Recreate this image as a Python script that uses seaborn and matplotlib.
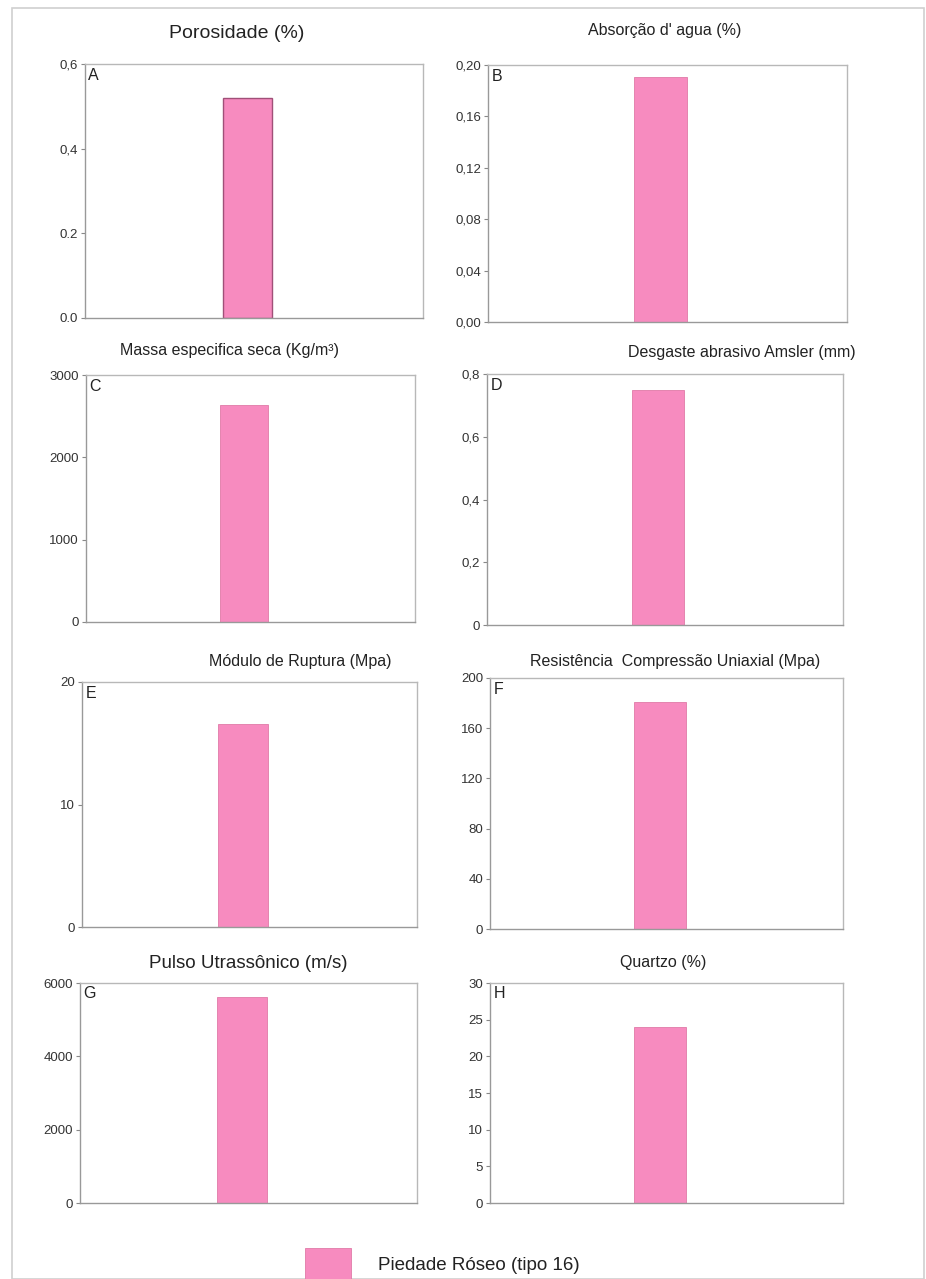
import matplotlib
matplotlib.use("Agg")
import matplotlib.pyplot as plt
import seaborn as sns
import pandas as pd
from matplotlib.patches import Rectangle

sns.set_theme(style="white")
plt.rcParams['font.family'] = ['Liberation Sans', 'DejaVu Sans']

# ---- data ----
sample = ["Piedade Róseo (tipo 16)"]
titles = ["Porosidade (%)", "Absorção d' agua (%)", "Massa especifica seca (Kg/m³)",
          "Desgaste abrasivo Amsler (mm)", "Módulo de Ruptura (Mpa)",
          "Resistência  Compressão Uniaxial (Mpa)", "Pulso Utrassônico (m/s)", "Quartzo (%)"]
letters = ["A", "B", "C", "D", "E", "F", "G", "H"]
values = [0.52, 0.191, 2640, 0.75, 16.6, 181, 5620, 24.0]
ytick_vals = [
    [0.0, 0.2, 0.4, 0.6],
    [0.00, 0.04, 0.08, 0.12, 0.16, 0.20],
    [0, 1000, 2000, 3000],
    [0, 0.2, 0.4, 0.6, 0.8],
    [0, 10, 20],
    [0, 40, 80, 120, 160, 200],
    [0, 2000, 4000, 6000],
    [0, 5, 10, 15, 20, 25, 30],
]
ytick_labels = [
    ["0.0", "0.2", "0,4", "0,6"],
    ["0,00", "0,04", "0,08", "0,12", "0,16", "0,20"],
    ["0", "1000", "2000", "3000"],
    ["0", "0,2", "0,4", "0,6", "0,8"],
    ["0", "10", "20"],
    ["0", "40", "80", "120", "160", "200"],
    ["0", "2000", "4000", "6000"],
    ["0", "5", "10", "15", "20", "25", "30"],
]

# ---- layout (pixels: left, right, top, bottom) ----
W, H = 926, 1279
boxes = [
    (85, 423, 64, 318), (488, 847, 65, 322),
    (86, 415, 375, 622), (487, 843, 374, 625),
    (82, 417, 682, 927), (490, 843, 678, 929),
    (80, 417, 983, 1203), (490, 843, 983, 1203),
]
title_pos = [(237, 34, 14), (665, 30, 11.5), (229, 350, 11.5), (742, 352, 11.5),
             (300, 662, 11.5), (675, 662, 11.5), (248, 963, 13.5), (663, 963, 11.5)]

bar_color = "#f78bbf"
fig = plt.figure(figsize=(W / 100, H / 100), dpi=100)
fig.patch.set_facecolor("white")
fig.add_artist(Rectangle((12 / W, 0), (W - 14) / W, (H - 8) / H, transform=fig.transFigure,
                         fill=False, edgecolor="#d0d0d0", lw=1.2))

for i in range(8):
    l, r, t, b = boxes[i]
    ax = fig.add_axes([l / W, 1 - b / H, (r - l) / W, (b - t) / H])
    df = pd.DataFrame({"amostra": sample, "valor": [values[i]]})
    sns.barplot(data=df, x="amostra", y="valor", ax=ax, color=bar_color, width=0.3,
                edgecolor="#a05078" if i == 0 else "#e07aa8", linewidth=1.0 if i == 0 else 0.6,
                saturation=1)
    ax.set_xlim(-0.98, 1.06)
    ax.set_ylim(ytick_vals[i][0], ytick_vals[i][-1])
    ax.set_yticks(ytick_vals[i])
    ax.set_yticklabels(ytick_labels[i], fontsize=9.5, color="#333333")
    ax.set_xticks([])
    ax.set_xlabel("")
    ax.set_ylabel("")
    ax.tick_params(axis="y", length=3, width=0.8, color="#888888", pad=2, left=True)
    for s in ax.spines.values():
        s.set_color("#b8b8b8")
        s.set_linewidth(1.0)
    ax.spines["left"].set_color("#999999")
    ax.spines["bottom"].set_color("#999999")
    ax.text(0.01, 0.985, letters[i], transform=ax.transAxes, ha="left", va="top",
            fontsize=11.5, color="#222222")
    tx, ty, fs = title_pos[i]
    fig.text(tx / W, 1 - ty / H, titles[i], ha="center", va="center", fontsize=fs,
             color="#222222")

# legend
fig.add_artist(Rectangle((305 / W, 1 - 1279 / H), 46 / W, 31 / H, transform=fig.transFigure,
                         facecolor=bar_color, edgecolor="#e07aa8", lw=0.6))
fig.text(378 / W, 1 - 1265 / H, sample[0], ha="left", va="center", fontsize=13.5, color="#222222")

fig.savefig("out.png", dpi=100)
